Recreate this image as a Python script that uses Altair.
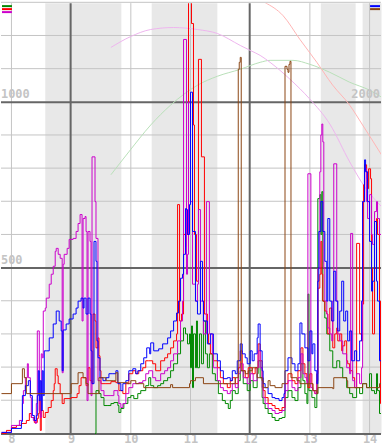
import altair as alt
import pandas as pd

# ---- data: time in hours after the start of day 8, values in left-axis units ----
RED = [(-4,0),(-2,9),(0,18),(2,24),(4,30),(6,39),(7.2,60),(8,48),(9.2,33),(10.4,45),(10.8,60),(11.2,99),(11.6,9),(12,69),(12.8,48),(13.6,63),(14.8,78),(16,99),(16.8,129),(17.2,150),(17.6,195),(18.4,174),(18.8,150),(19.6,120),(20.4,90),(21.2,105),(24,108),(26.4,120),(27.2,144),(28,168),(28.8,168),(30,144),(30.8,198),(31.6,159),(32.4,150),(32.8,360),(33.6,339),(34,258),(34.8,288),(35.2,234),(35.6,189),(36,150),(38,150),(40,156),(42,153),(43.2,129),(44.8,120),(46,150),(47.2,180),(48.8,189),(50,180),(51.2,189),(52.8,198),(54,219),(55.2,219),(56.8,210),(58,189),(60,219),(61.6,228),(62.8,240),(64,258),(65.2,279),(66.4,300),(66.8,690),(67.6,339),(68.4,360),(69.2,600),(70,564),(70.4,600),(71.2,1400),(72.4,1236),(73.2,930),(73.6,600),(74.4,459),(75.2,1128),(76.4,834),(77.6,360),(78.8,300),(79.2,270),(80,240),(81.2,219),(82.8,198),(84,168),(85.2,150),(86.8,138),(88,159),(88.8,168),(90,150),(91.2,198),(92,249),(92.8,189),(94,168),(95.2,198),(96.8,180),(98,198),(99.2,270),(100,219),(100.8,168),(101.2,129),(102,108),(103.2,90),(104.8,84),(106,75),(107.6,69),(108.8,78),(110,150),(111.2,180),(112.8,159),(114,150),(115.2,189),(116.4,258),(117.2,210),(118,180),(118.8,159),(119.2,138),(120,180),(120.8,150),(121.2,129),(122,120),(122.8,180),(123.2,438),(124,480),(124.4,579),(124.8,480),(125.2,399),(126,369),(126.8,360),(127.2,300),(128,378),(128.8,339),(129.2,258),(130,300),(130.8,318),(131.2,279),(132,300),(132.8,249),(133.2,264),(134,279),(134.8,219),(135.2,210),(136,189),(137.2,168),(138,138),(138.8,573),(140,300),(140.8,279),(141.2,390),(141.6,750),(142,810),(142.8,768),(143.2,738),(143.6,798),(144.4,768),(144.8,498),(145.2,300),(146,498),(146.8,648),(147.2,600),(148,399),(148.4,90),(148.8,90)]

BLUE = [(-4,3),(0,15),(4,36),(4.4,114),(5.6,144),(6.8,159),(7.6,114),(8.4,54),(9.2,39),(10,54),(10.4,114),(10.8,189),(11.2,99),(11.6,159),(12,69),(12.4,189),(12.8,114),(13.2,249),(14,249),(15.2,288),(16.8,330),(18,369),(19.2,339),(20,309),(20.4,189),(20.8,312),(22,330),(23.2,345),(24.8,360),(26,378),(26.8,399),(28,408),(28.8,378),(29.2,408),(30,360),(30.8,408),(31.6,360),(32,249),(32.4,150),(33.2,579),(34,519),(34.4,279),(34.8,228),(35.6,168),(36.8,159),(38,168),(39.2,180),(40.8,180),(42,189),(42.8,150),(44,129),(44.8,150),(46,159),(47.2,189),(48.8,195),(50,180),(50.8,189),(52,210),(53.2,228),(54.4,258),(55.6,240),(56,273),(57.2,249),(59.2,255),(60.8,270),(62.8,288),(64,309),(65.2,339),(66.4,363),(67.2,399),(68,468),(68.8,480),(69.2,540),(70,678),(70.4,675),(70.8,600),(71.6,690),(72,1029),(72.8,609),(74,399),(74.8,360),(76,519),(76.8,399),(77.2,339),(78.8,270),(80,300),(80.8,300),(81.2,240),(82.8,219),(84,189),(85.2,165),(86.8,168),(88,159),(88.8,189),(90,180),(90.8,219),(92,270),(92.8,240),(94,228),(94.8,210),(96,249),(96.8,219),(97.6,240),(98.8,288),(99.2,330),(100,249),(100.8,189),(101.2,150),(102,138),(103.2,120),(104.8,108),(106,105),(107.6,99),(108.8,108),(109.6,120),(110,189),(111.2,228),(112.8,210),(114,189),(115.2,210),(116,333),(116.8,300),(118,258),(119.2,219),(120,309),(120.8,240),(121.2,270),(122,189),(122.8,150),(123.2,459),(123.6,609),(124.4,699),(125.2,609),(126,519),(126.8,399),(127.2,648),(128,399),(128.8,339),(129.6,489),(130.4,399),(131.2,309),(132,369),(132.8,459),(133.6,339),(134.4,369),(135.2,279),(136,309),(136.8,219),(138,249),(138.8,219),(140,279),(140.8,399),(141.2,699),(142,825),(142.4,789),(143.2,699),(144,579),(144.8,429),(145.2,459),(146,639),(146.8,459),(147.2,399),(148,219),(148.8,219)]

MAGENTA = [(-4,3),(0,24),(3.2,39),(4.4,90),(4.8,129),(5.6,168),(6.4,210),(6.8,168),(7.6,108),(8,48),(8.8,39),(9.6,30),(10,90),(10.4,309),(11.2,69),(11.6,48),(12,240),(12.4,228),(12.8,369),(13.6,378),(14,408),(15.2,450),(16,480),(16.8,504),(17.6,549),(18,558),(18.8,540),(19.6,528),(20.4,183),(20.8,510),(21.2,540),(22.4,558),(23.2,585),(24.8,588),(26,609),(26.8,633),(27.6,660),(28.4,339),(28.8,648),(29.6,654),(30,609),(30.4,99),(30.8,609),(31.6,579),(32,114),(32.4,834),(33.6,699),(34,588),(34.8,159),(36,129),(37.2,114),(40,114),(41.2,129),(42.8,114),(43.2,90),(44,78),(44.8,90),(46,120),(47.2,138),(48.8,150),(51.2,153),(52.8,159),(54,180),(55.2,189),(56.8,168),(58,159),(60,180),(61.6,189),(62.8,198),(64,219),(65.2,240),(66.8,279),(68,339),(68.8,399),(69.2,1188),(70.4,480),(70.8,540),(71.2,999),(72,699),(72.8,450),(74,399),(74.8,450),(75.2,675),(76,399),(77.2,300),(78.4,699),(79.6,300),(80.8,240),(81.2,198),(82.8,159),(84,138),(85.2,129),(86.8,120),(88,129),(88.8,150),(90,138),(91.2,180),(92,210),(93.2,168),(94.8,150),(96,180),(97.2,159),(98.8,198),(99.2,249),(100,198),(100.8,138),(101.2,108),(102,90),(103.2,75),(104.8,69),(106,60),(107.6,63),(108.8,69),(110,129),(111.2,159),(112.8,138),(114,129),(115.2,168),(116.4,240),(117.2,180),(118,168),(118.8,150),(119.2,783),(120.4,138),(121.2,129),(122,120),(122.8,159),(123.2,498),(124,789),(124.4,900),(124.8,933),(125.2,879),(125.6,498),(126,399),(126.8,360),(127.2,318),(128,300),(128.8,279),(129.2,399),(129.6,813),(130.8,399),(131.2,300),(132,279),(133.2,240),(134.8,198),(136,180),(136.4,603),(137.2,159),(138,138),(138.8,180),(140,150),(140.8,198),(141.2,699),(142,798),(142.8,699),(143.2,648),(144,720),(144.8,600),(145.2,570),(146,669),(146.8,699),(147.2,648),(148,600),(148.8,600)]

GREEN = [(33.6,0),(34,129),(35.2,120),(36,108),(37.2,84),(38.8,84),(40,90),(41.2,93),(42.8,84),(43.2,63),(44,75),(45.2,90),(46.8,108),(48,114),(49.2,105),(50.8,120),(52,129),(54,144),(55.2,168),(56,144),(57.2,138),(58.8,144),(60,150),(61.2,159),(62.8,168),(64,189),(65.2,210),(66.8,240),(68,279),(69.2,318),(70,300),(70.8,270),(71.6,300),(72,198),(72.4,324),(72.8,138),(73.2,300),(74,198),(74.4,339),(74.8,198),(75.6,300),(76.4,210),(77.2,339),(78,240),(78.8,198),(79.6,240),(80.8,180),(82,159),(83.2,120),(84.8,99),(86,90),(87.2,75),(88,99),(88.8,129),(90,120),(91.2,159),(92,189),(93.2,150),(94.8,129),(96,159),(97.2,138),(98.8,180),(99.2,219),(100,168),(100.8,108),(101.2,90),(102,75),(103.2,60),(104.8,48),(106,39),(107.6,45),(108.8,48),(110,108),(111.2,129),(112.8,108),(114,99),(115.2,138),(116.4,210),(117.2,159),(118,120),(118.8,90),(119.2,420),(119.6,129),(120.8,108),(122,78),(122.8,120),(123.2,708),(124,720),(124.4,600),(124.8,729),(125.2,399),(126,348),(126.8,300),(128,249),(129.2,198),(130.8,219),(132,198),(133.2,168),(134.8,138),(136,120),(137.2,108),(138.8,138),(140,120),(141.2,150),(142.8,138),(144,180),(144.8,129),(146,120),(146.8,180),(147.2,129),(148,60),(148.8,69)]

BROWN = [(-4,120),(0,150),(4.4,195),(5.2,168),(6,120),(24,150),(26.8,183),(28.8,168),(30,150),(30.8,120),(35.2,168),(38,159),(41.2,159),(42,183),(42.8,153),(46.8,150),(48,159),(50,150),(53.2,138),(64,147),(64.8,138),(71.6,150),(72,159),(74,168),(77.2,150),(86,150),(90,168),(91.2,1098),(91.6,1119),(92,1134),(92.4,189),(94,180),(95.2,189),(96.8,198),(98.8,168),(100.8,159),(101.2,138),(103.2,159),(104,144),(106,138),(108.8,150),(110,1107),(110.8,1098),(111.2,1089),(111.6,1113),(112,1122),(112.4,168),(114.8,159),(116,150),(121.2,129),(122.8,120),(123.2,138),(129.2,135),(129.6,168),(134.8,159),(135.2,138),(141.2,150),(142.8,138),(146.8,138),(148,150),(148.8,150)]

# faint curves, right-axis units (2000 on the right = 1000 on the left)
ARC_MAGENTA = [(40,2328),(48,2394),(56,2436),(65.2,2448),(74.8,2436),(82.8,2412),(92,2340),(96,2310),(100,2280),(104,2238),(112,2136),(120,2016),(128,1866),(136,1638),(142,1488),(148.8,1368)]
ARC_GREEN = [(40,1560),(47.2,1698),(56,1860),(64,1980),(74.8,2100),(82.8,2154),(92,2196),(100,2238),(104,2250),(113.2,2250),(120,2226),(128,2178),(136,2118),(144,2070),(148.8,2028)]
ARC_PINK = [(102,2598),(109.2,2520),(116,2376),(122.8,2238),(129.2,2100),(136,1980),(141.2,1860),(148.8,1680)]

BANDS = [(13.6, 44.2), (56.4, 82.8), (124.4, 138.4), (141.2, 148.8)]
X_TICKS = [8, 9, 10, 11, 12, 13, 14]
X_DARK = [9, 12]
Y_LIGHT = [100, 200, 300, 400, 600, 700, 800, 900, 1100, 1200, 1300]
Y_DARK = [0, 500, 1000]
LEFT_LABELS = [500, 1000]
RIGHT_LABELS = [2000]

FONT = "DejaVu Sans Mono"
LABEL_COLOR = "#c4c4c4"


def to_df(pairs):
    return pd.DataFrame({"day": [8 + h / 24 for h, _ in pairs], "value": [v for _, v in pairs]})


# domains padded by half a pixel so 1-px strokes fall on the pixel grid
XS = alt.Scale(domain=[8 - 4.2 / 24, 8 + 148.6 / 24], nice=False, zero=False)
YS = alt.Scale(domain=[-1.5, 1297.5], nice=False, zero=False)
YS2 = alt.Scale(domain=[-3, 2595], nice=False, zero=False)

X_AXIS = alt.Axis(values=X_TICKS, format="d", grid=False, ticks=False, domain=False,
                  labelColor=LABEL_COLOR, labelFont=FONT, labelFontSize=12,
                  labelFontWeight="bold", labelPadding=0, labelFlush=False,
                  labelOverlap=False, title=None)


def xenc(field):
    return alt.X(field, type="quantitative", scale=XS, axis=X_AXIS)


band_df = pd.DataFrame({"start": [8 + a / 24 for a, _ in BANDS], "end": [8 + b / 24 for _, b in BANDS]})
bands = alt.Chart(band_df).mark_rect(color="#e8e8e8").encode(x=xenc("start"), x2="end:Q")

vlight = alt.Chart(pd.DataFrame({"day": [d for d in X_TICKS if d not in X_DARK]})).mark_rule(
    color="#c4c4c4", strokeWidth=1).encode(x=xenc("day"))
hlight = alt.Chart(pd.DataFrame({"v": Y_LIGHT})).mark_rule(color="#c4c4c4", strokeWidth=1).encode(
    y=alt.Y("v:Q", scale=YS, axis=None))
vdark = alt.Chart(pd.DataFrame({"day": X_DARK})).mark_rule(color="#666666", strokeWidth=2, xOffset=-0.5).encode(
    x=xenc("day"))
hdark = alt.Chart(pd.DataFrame({"v": Y_DARK})).mark_rule(color="#666666", strokeWidth=2, yOffset=0.5).encode(
    y=alt.Y("v:Q", scale=YS, axis=None))


def arc(pairs, color):
    return alt.Chart(to_df(pairs)).mark_line(interpolate="monotone", color=color, strokeWidth=1, clip=True).encode(
        x=xenc("day"), y=alt.Y("value:Q", scale=YS2, axis=None))


def series(pairs, color):
    return alt.Chart(to_df(pairs)).mark_line(interpolate="step-after", color=color, strokeWidth=1, clip=True).encode(
        x=xenc("day"), y=alt.Y("value:Q", scale=YS, axis=None))


left_txt = alt.Chart(pd.DataFrame({"v": LEFT_LABELS, "lab": [str(v) for v in LEFT_LABELS]})).mark_text(
    align="left", baseline="bottom", dy=-1, font=FONT, fontSize=12, fontWeight="bold", color=LABEL_COLOR
).encode(x=alt.value(0), y=alt.Y("v:Q", scale=YS, axis=None), text="lab:N")
right_txt = alt.Chart(pd.DataFrame({"v": RIGHT_LABELS, "lab": [str(v) for v in RIGHT_LABELS]})).mark_text(
    align="right", baseline="bottom", dy=-1, font=FONT, fontSize=12, fontWeight="bold", color=LABEL_COLOR
).encode(x=alt.value(381), y=alt.Y("v:Q", scale=YS2, axis=None), text="lab:N")


def swatch(x1, x2, y, color):
    return alt.Chart(pd.DataFrame({"k": [0]})).mark_rule(color=color, strokeWidth=2).encode(
        x=alt.value(x1), x2=alt.value(x2), y=alt.value(y))


layers = [
    bands, vlight, hlight, vdark, hdark,
    arc(ARC_GREEN, "#b8e0b8"), arc(ARC_MAGENTA, "#eeb4ee"), arc(ARC_PINK, "#ffb4b4"),
    series(GREEN, "#008800"), series(RED, "#ff0000"), series(MAGENTA, "#cc00cc"),
    series(BLUE, "#0000ff"), series(BROWN, "#8b4513"),
    left_txt, right_txt,
    swatch(1, 11, 3, "#008800"), swatch(1, 11, 6, "#ff0000"), swatch(1, 11, 9, "#cc00cc"),
    swatch(371, 381, 3, "#0000ff"), swatch(371, 381, 6, "#8b4513"),
]

chart = alt.layer(*layers).resolve_scale(y="independent").properties(
    width=382, height=433, padding=0, background="white"
).configure_view(strokeWidth=0)

chart.save("out.html", embed_options={"renderer": "svg", "actions": False})
